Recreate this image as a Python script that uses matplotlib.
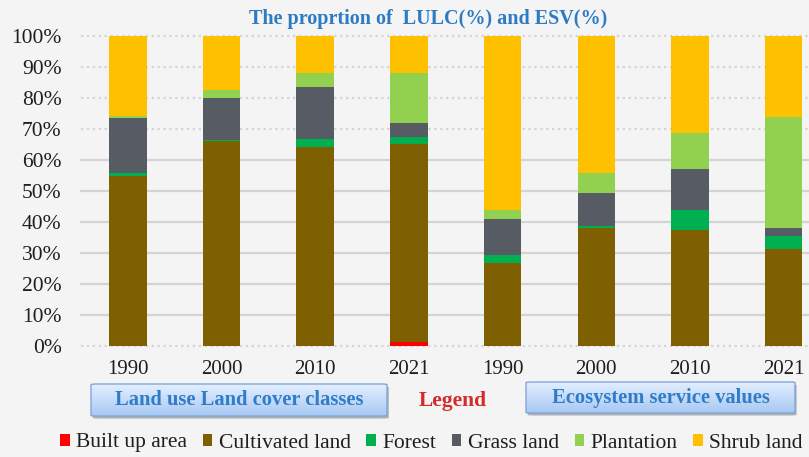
import numpy as np
import matplotlib
matplotlib.use('Agg')
import matplotlib.pyplot as plt
from matplotlib.patches import FancyBboxPatch, Patch

plt.rcParams['font.family'] = ['Liberation Serif', 'DejaVu Serif']

years = ['1990', '2000', '2010', '2021', '1990', '2000', '2010', '2021']
classes = ['Built up area', 'Cultivated land', 'Forest', 'Grass land', 'Plantation', 'Shrub land']
colors = ['#ff0000', '#7f6000', '#00b050', '#575c64', '#92d050', '#ffc000']

# first four = LULC(%), last four = ESV(%)
built_up   = [0.0, 0.0, 0.0, 1.3, 0.0, 0.0, 0.0, 0.0]
cultivated = [54.9, 66.1, 64.3, 64.0, 26.9, 38.0, 37.4, 31.2]
forest     = [0.9, 0.5, 2.4, 2.2, 2.6, 0.8, 6.5, 4.4]
grass      = [17.6, 13.5, 16.7, 4.3, 11.5, 10.4, 13.1, 2.6]
plantation = [0.9, 2.5, 4.8, 16.4, 2.9, 6.5, 11.6, 35.6]
shrub      = [25.7, 17.4, 11.8, 11.8, 56.1, 44.3, 31.4, 26.2]

series = [built_up, cultivated, forest, grass, plantation, shrub]
yticks = np.arange(0, 101, 10)

W, H = 809, 457
bg = '#f4f4f4'
txt = '#1e1e1e'
fig = plt.figure(figsize=(W/100, H/100), dpi=100, facecolor=bg)
ax = fig.add_axes([81/W, (H-346)/H, (W-81)/W, 310/H])
ax.set_facecolor(bg)

x = np.arange(len(years))
bottom = np.zeros(len(years))
for vals, c, lab in zip(series, colors, classes):
    ax.bar(x, vals, width=0.4, bottom=bottom, color=c, label=lab, zorder=3)
    bottom += np.array(vals)

for yv in yticks:
    ls = ':' if (yv == 0 or yv >= 70) else '-'
    ax.axhline(yv, color='#d4d4d4', lw=1.6, ls=ls, zorder=1, clip_on=False)

ax.set_xlim(-0.5, 7.27)
ax.set_ylim(0, 100)
ax.set_yticks(yticks)
ax.set_yticklabels([f'{v}%' for v in yticks], fontsize=15.5, color=txt)
ax.set_xticks(x)
ax.set_xticklabels(years, fontsize=15, color=txt)
ax.tick_params(length=0)
ax.tick_params(axis='y', pad=14)
ax.tick_params(axis='x', pad=10)
for s in ax.spines.values():
    s.set_visible(False)

fig.text(428/W, 1 - 19/H, 'The proprtion of  LULC(%) and ESV(%)', ha='center', va='center',
         fontsize=14.5, fontweight='bold', color='#2e7bc4')

# gradient boxes
def grad_box(x0, y0, x1, y1, label, fs):
    bx = fig.add_axes([x0/W, (H-y1)/H, (x1-x0)/W, (y1-y0)/H])
    bx.set_xlim(0, 1)
    bx.set_ylim(0, 1)
    bx.axis('off')
    shadow = FancyBboxPatch((0.006, -0.08), 1, 1, boxstyle='round,pad=0,rounding_size=0.02',
                            transform=bx.transAxes, fc='#b0b0b0', ec='none', clip_on=False, zorder=0)
    bx.add_patch(shadow)
    box = FancyBboxPatch((0, 0), 1, 1, boxstyle='round,pad=0,rounding_size=0.02',
                         transform=bx.transAxes, fc='none', ec='#7fa7dc', lw=1, clip_on=False, zorder=3)
    bx.add_patch(box)
    g = np.linspace(0, 1, 64).reshape(-1, 1)
    cmap = matplotlib.colors.LinearSegmentedColormap.from_list('b', ['#e4efff', '#a8c8f2'])
    im = bx.imshow(g, extent=[0, 1, 0, 1], aspect='auto', cmap=cmap, origin='upper', zorder=1)
    im.set_clip_path(box)
    bx.text(0.5, 0.5, label, ha='center', va='center', fontsize=fs, fontweight='bold',
            color='#2f7dca', zorder=4)

grad_box(91, 384, 387, 416, 'Land use Land cover classes', 14.8)
grad_box(526, 382, 795, 413, 'Ecosystem service values', 14.8)

fig.text(453/W, 1 - 401/H, 'Legend', ha='center', va='center', fontsize=15.5, fontweight='bold',
         color='#d42a2a')

handles = [Patch(facecolor=c, label=l) for c, l in zip(colors, classes)]
fig.legend(handles=handles, loc='center left', bbox_to_anchor=(60/W, 1 - 443/H), ncol=6,
           frameon=False, fontsize=15.5, handlelength=0.45, handleheight=0.45, handletextpad=0.3,
           columnspacing=0.72, borderaxespad=0, borderpad=0, labelcolor=txt)

fig.savefig('out.png', dpi=100, facecolor=bg)
